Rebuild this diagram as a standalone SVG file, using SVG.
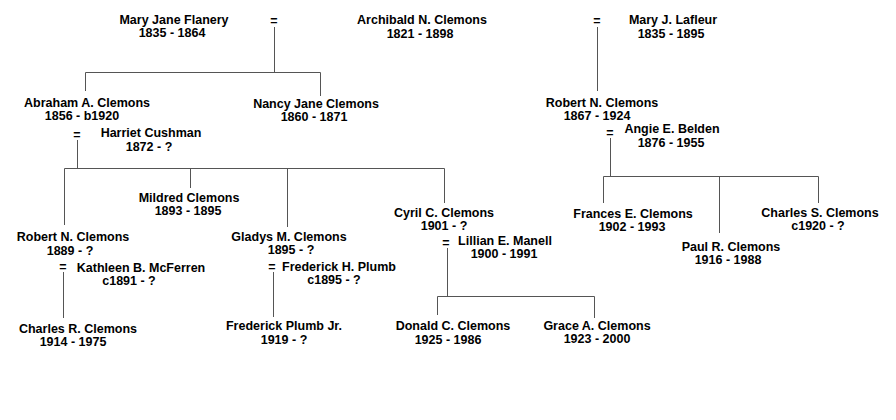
<svg xmlns="http://www.w3.org/2000/svg" width="896" height="420" viewBox="0 0 896 420">
<style>
text{font-family:"Liberation Sans",Arial,sans-serif;font-weight:bold;font-size:12.5px;fill:#000;text-anchor:middle}
.c line,.c polyline{stroke:#555;stroke-width:1;fill:none}
</style>
<rect width="896" height="420" fill="#fff"/>
<g class="c" id="connectors">
<polyline points="274.5,27 274.5,72.5"/>
<polyline points="85.5,91 85.5,72.5 320.5,72.5 320.5,96"/>
<polyline points="597.5,27 597.5,91"/>
<polyline points="77.5,140 77.5,168.5"/>
<polyline points="64.5,225 64.5,168.5 444.5,168.5 444.5,203"/>
<line x1="190.5" y1="168.5" x2="190.5" y2="188"/>
<line x1="287.5" y1="168.5" x2="287.5" y2="227"/>
<polyline points="63.5,272 63.5,318"/>
<polyline points="273.5,272 273.5,317"/>
<polyline points="447.5,248 447.5,296.5"/>
<polyline points="437.5,315 437.5,296.5 594.5,296.5 594.5,318"/>
<polyline points="610.5,138 610.5,176.5"/>
<polyline points="603.5,203 603.5,176.5 818.5,176.5 818.5,203"/>
<line x1="719.5" y1="176.5" x2="719.5" y2="233"/>
</g>
<g id="eq">
<text x="274" y="25">=</text>
<text x="597" y="25">=</text>
<text x="77" y="139">=</text>
<text x="63" y="271">=</text>
<text x="272" y="271">=</text>
<text x="446" y="247">=</text>
<text x="610" y="137">=</text>
</g>
<g id="mary-jane-flanery"><text x="174" y="24">Mary Jane Flanery</text><text x="172" y="37">1835 - 1864</text></g>
<g id="archibald"><text x="422" y="24">Archibald N. Clemons</text><text x="420" y="38">1821 - 1898</text></g>
<g id="mary-lafleur"><text x="673" y="24">Mary J. Lafleur</text><text x="671" y="38">1835 - 1895</text></g>
<g id="abraham"><text x="87" y="107">Abraham A. Clemons</text><text x="82" y="120">1856 - b1920</text></g>
<g id="nancy"><text x="316" y="108">Nancy Jane Clemons</text><text x="314" y="121">1860 - 1871</text></g>
<g id="harriet"><text x="151" y="137">Harriet Cushman</text><text x="149" y="151">1872 - ?</text></g>
<g id="mildred"><text x="189" y="202">Mildred Clemons</text><text x="188" y="215">1893 - 1895</text></g>
<g id="robert-1889"><text x="73" y="241">Robert N. Clemons</text><text x="70" y="255">1889 - ?</text></g>
<g id="kathleen"><text x="141" y="272">Kathleen B. McFerren</text><text x="129" y="285">c1891 - ?</text></g>
<g id="charles-r"><text x="78" y="333">Charles R. Clemons</text><text x="73" y="346">1914 - 1975</text></g>
<g id="gladys"><text x="289" y="241">Gladys M. Clemons</text><text x="291" y="254">1895 - ?</text></g>
<g id="frederick-h"><text x="339" y="271">Frederick H. Plumb</text><text x="334" y="284">c1895 - ?</text></g>
<g id="frederick-jr"><text x="284" y="330">Frederick Plumb Jr.</text><text x="284" y="344">1919 - ?</text></g>
<g id="cyril"><text x="444" y="217">Cyril C. Clemons</text><text x="444" y="230">1901 - ?</text></g>
<g id="lillian"><text x="505" y="245">Lillian E. Manell</text><text x="504" y="258">1900 - 1991</text></g>
<g id="donald"><text x="453" y="330">Donald C. Clemons</text><text x="448" y="344">1925 - 1986</text></g>
<g id="grace"><text x="597" y="330">Grace A. Clemons</text><text x="597" y="343">1923 - 2000</text></g>
<g id="robert-1867"><text x="602" y="107">Robert N. Clemons</text><text x="597" y="120">1867 - 1924</text></g>
<g id="angie"><text x="672" y="133">Angie E. Belden</text><text x="671" y="147">1876 - 1955</text></g>
<g id="frances"><text x="633" y="218">Frances E. Clemons</text><text x="632" y="231">1902 - 1993</text></g>
<g id="paul"><text x="731" y="251">Paul R. Clemons</text><text x="728" y="264">1916 - 1988</text></g>
<g id="charles-s"><text x="820" y="217">Charles S. Clemons</text><text x="818" y="230">c1920 - ?</text></g>
</svg>
